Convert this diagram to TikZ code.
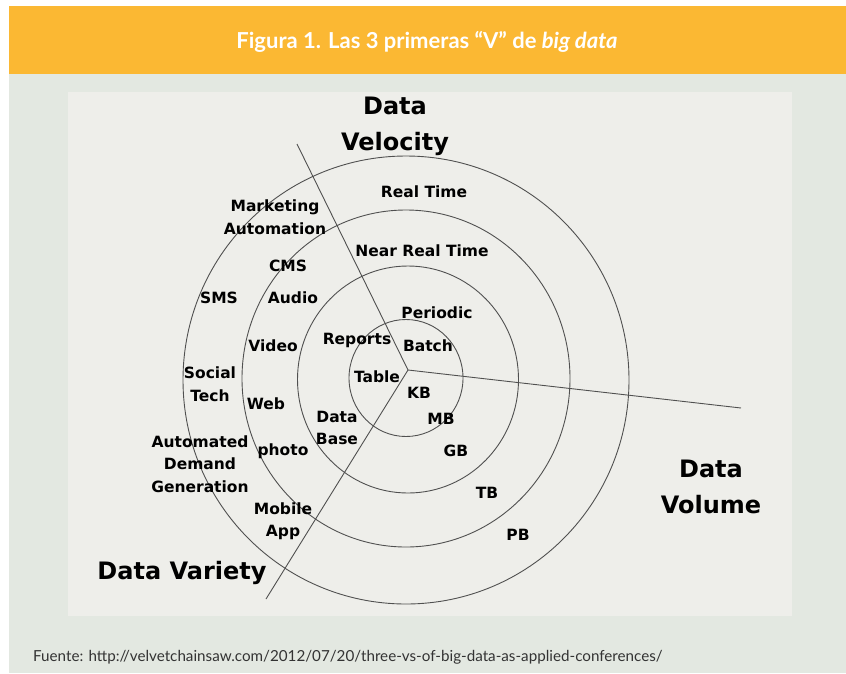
\documentclass[tikz,border=0pt]{standalone}
\usepackage{fontspec}
\newfontfamily\dvfont{DejaVu Sans}
\newfontfamily\hdfont{Lato}
\definecolor{bandorange}{HTML}{FBB833}
\definecolor{outergrey}{HTML}{E3E8E1}
\definecolor{panelgrey}{HTML}{EEEEEA}
\definecolor{linegrey}{HTML}{505050}
\definecolor{foottext}{HTML}{333333}
\begin{document}
\begin{tikzpicture}[x=1pt,y=-1pt,
  lbl/.style={font=\dvfont\bfseries\fontsize{15.5}{22.5}\selectfont, inner sep=0pt, align=center, text=black},
  biglbl/.style={font=\dvfont\bfseries\fontsize{24}{36}\selectfont, inner sep=0pt, align=center, text=black},
  ring/.style={draw=linegrey, line width=0.9pt},
  axis/.style={draw=linegrey, line width=0.9pt}]
\useasboundingbox (0,0) rectangle (846,673);
\fill[white] (0,0) rectangle (846,673);
\fill[outergrey] (9,74) rectangle (846,673);
\fill[bandorange] (9,6) rectangle (846,74);
\fill[panelgrey] (68,92) rectangle (792,616);
\node[font=\hdfont\bfseries\fontsize{22}{24}\selectfont, text=white, inner sep=0pt] (title) at (427,42) {Figura 1. Las 3 primeras “V” de \textit{big data}};
% rings
\draw[ring] (406,378) ellipse [x radius=57pt, y radius=58.5pt];
\draw[ring] (408,379.5) ellipse [x radius=110.5pt, y radius=113.5pt];
\draw[ring] (406,378.5) ellipse [x radius=164pt, y radius=168.5pt];
\draw[ring] (406,380) ellipse [x radius=223pt, y radius=224pt];
% axes
\coordinate (hub) at (408,370);
\coordinate (velend) at (297,144);
\coordinate (volend) at (741,408);
\coordinate (varend) at (266,599);
\draw[axis] (hub) -- (velend);
\draw[axis] (hub) -- (volend);
\draw[axis] (hub) -- (varend);
% big titles
\node[biglbl] (velocity) at (395,126) {Data\\Velocity};
\node[biglbl] (volume) at (711,487) {Data\\Volume};
\node[biglbl] (variety) at (182,573) {Data Variety};
% labels
\node[lbl] (realtime) at (424,192) {Real Time};
\node[lbl] (nearrt) at (422,251) {Near Real Time};
\node[lbl] (marketing) at (275,217) {Marketing\\Automation};
\node[lbl] (cms) at (288,266) {CMS};
\node[lbl] (sms) at (219,298) {SMS};
\node[lbl] (audio) at (293,298) {Audio};
\node[lbl] (periodic) at (437,313) {Periodic};
\node[lbl] (reports) at (357,340) {Reports};
\node[lbl] (batch) at (428,346) {Batch};
\node[lbl] (video) at (273,346) {Video};
\node[lbl] (table) at (377,377) {Table};
\node[lbl] (kb) at (419,393) {KB};
\node[lbl] (mb) at (441,419) {MB};
\node[lbl] (social) at (210,384) {Social\\Tech};
\node[lbl] (web) at (266,404) {Web};
\node[lbl] (database) at (337,428) {Data\\Base};
\node[lbl] (gb) at (456,451) {GB};
\node[lbl] (automated) at (200,464) {Automated\\Demand\\Generation};
\node[lbl] (photo) at (283,451) {photo};
\node[lbl] (tb) at (487,493) {TB};
\node[lbl] (mobile) at (283,521) {Mobile\\App};
\node[lbl] (pb) at (518,535) {PB};
% footer
\node[font=\hdfont\fontsize{15.2}{17}\selectfont, text=foottext, anchor=west, inner sep=0pt] (source) at (33,657) {Fuente: http://velvetchainsaw.com/2012/07/20/three-vs-of-big-data-as-applied-conferences/};
\end{tikzpicture}
\end{document}
